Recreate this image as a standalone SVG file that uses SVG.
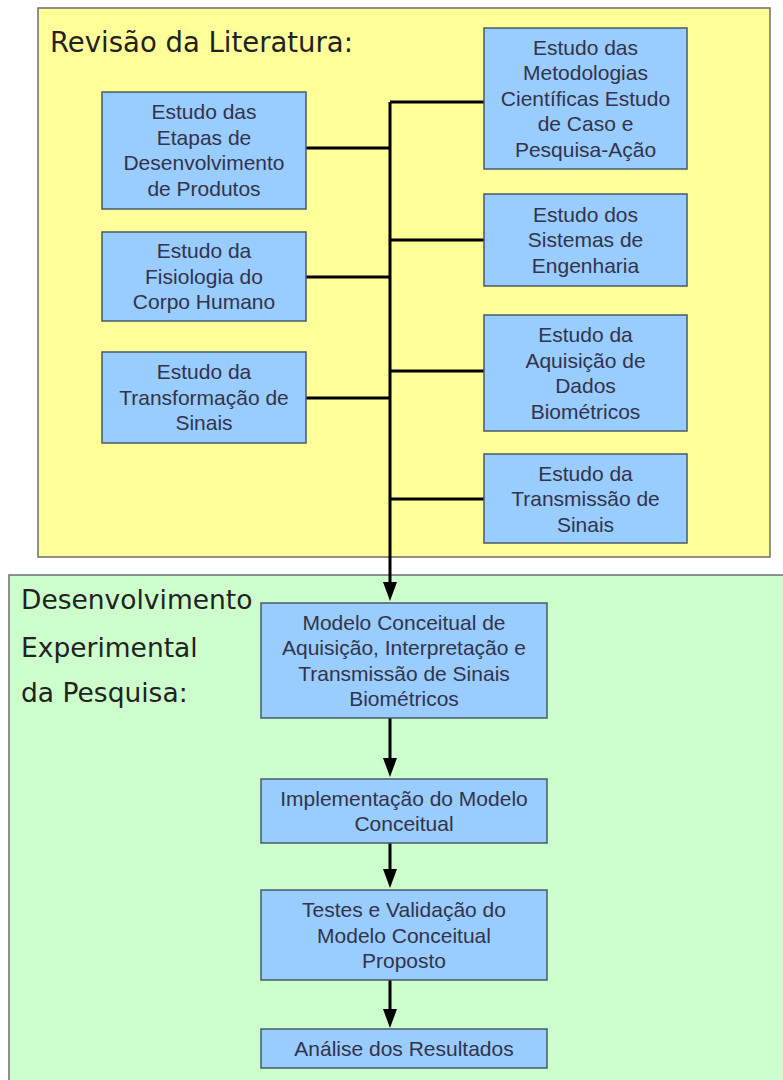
<svg xmlns="http://www.w3.org/2000/svg" width="783" height="1080" viewBox="0 0 783 1080">
<style>
.sec{stroke:#6e6e6e;stroke-width:1.5}
.box{fill:#99ccff;stroke:#4a5a6a;stroke-width:1.5}
.t{font-family:"Liberation Sans",Arial,sans-serif;font-size:21px;fill:#33334a;text-anchor:middle}
.h{font-family:"DejaVu Sans",Verdana,sans-serif;fill:#222222}
.ln{stroke:#000;stroke-width:3;fill:none}
.ah{fill:#000}
</style>
<rect width="783" height="1080" fill="#ffffff"/>
<g id="sec-revisao">
<rect class="sec" x="38" y="8" width="732" height="549" fill="#ffff99"/>
<text class="h" x="50" y="52" font-size="27.5">Revisão da Literatura:</text>
</g>
<g id="sec-desenvolvimento">
<rect class="sec" x="9" y="575" width="790" height="520" fill="#ccffcc"/>
<text class="h" font-size="26.5"><tspan x="21" y="609">Desenvolvimento</tspan><tspan x="21" y="657">Experimental</tspan><tspan x="21" y="702">da Pesquisa:</tspan></text>
</g>
<g id="connectors">
<path class="ln" d="M306,148 H390 M306,277 H390 M306,398 H390 M484,102 H390 M484,240 H390 M484,371 H390 M484,499 H390"/>
<path class="ln" d="M390,102 V582"/>
<path class="ah" d="M383,582 L397,582 L390,601 Z"/>
<path class="ln" d="M390,718 V758"/>
<path class="ah" d="M383,758 L397,758 L390,777 Z"/>
<path class="ln" d="M390,843 V869"/>
<path class="ah" d="M383,869 L397,869 L390,888 Z"/>
<path class="ln" d="M390,980 V1009"/>
<path class="ah" d="M383,1009 L397,1009 L390,1028 Z"/>
</g>
<g id="n-etapas">
<rect class="box" x="102" y="92" width="204" height="117"/>
<text class="t"><tspan x="204" y="119">Estudo das</tspan><tspan x="204" y="144.5">Etapas de</tspan><tspan x="204" y="170">Desenvolvimento</tspan><tspan x="204" y="195.5">de Produtos</tspan></text>
</g>
<g id="n-fisiologia">
<rect class="box" x="102" y="232" width="204" height="89"/>
<text class="t"><tspan x="204" y="258">Estudo da</tspan><tspan x="204" y="283.5">Fisiologia do</tspan><tspan x="204" y="309">Corpo Humano</tspan></text>
</g>
<g id="n-transformacao">
<rect class="box" x="102" y="352" width="204" height="91"/>
<text class="t"><tspan x="204" y="379">Estudo da</tspan><tspan x="204" y="404.5">Transformação de</tspan><tspan x="204" y="430">Sinais</tspan></text>
</g>
<g id="n-metodologias">
<rect class="box" x="484" y="28" width="203" height="141"/>
<text class="t"><tspan x="585.5" y="54.5">Estudo das</tspan><tspan x="585.5" y="80">Metodologias</tspan><tspan x="585.5" y="105.5">Científicas Estudo</tspan><tspan x="585.5" y="131">de Caso e</tspan><tspan x="585.5" y="156.5">Pesquisa-Ação</tspan></text>
</g>
<g id="n-sistemas">
<rect class="box" x="484" y="194" width="203" height="92"/>
<text class="t"><tspan x="585.5" y="221.5">Estudo dos</tspan><tspan x="585.5" y="247">Sistemas de</tspan><tspan x="585.5" y="272.5">Engenharia</tspan></text>
</g>
<g id="n-aquisicao">
<rect class="box" x="484" y="315" width="203" height="116"/>
<text class="t"><tspan x="585.5" y="342">Estudo da</tspan><tspan x="585.5" y="367.5">Aquisição de</tspan><tspan x="585.5" y="393">Dados</tspan><tspan x="585.5" y="418.5">Biométricos</tspan></text>
</g>
<g id="n-transmissao">
<rect class="box" x="484" y="454" width="203" height="89"/>
<text class="t"><tspan x="585.5" y="480.5">Estudo da</tspan><tspan x="585.5" y="506">Transmissão de</tspan><tspan x="585.5" y="531.5">Sinais</tspan></text>
</g>
<g id="n-modelo">
<rect class="box" x="261" y="603" width="286" height="115"/>
<text class="t"><tspan x="404" y="629.5">Modelo Conceitual de</tspan><tspan x="404" y="655">Aquisição, Interpretação e</tspan><tspan x="404" y="680.5">Transmissão de Sinais</tspan><tspan x="404" y="706">Biométricos</tspan></text>
</g>
<g id="n-implementacao">
<rect class="box" x="261" y="779" width="286" height="64"/>
<text class="t"><tspan x="404" y="805.5">Implementação do Modelo</tspan><tspan x="404" y="831">Conceitual</tspan></text>
</g>
<g id="n-testes">
<rect class="box" x="261" y="890" width="286" height="90"/>
<text class="t"><tspan x="404" y="917">Testes e Validação do</tspan><tspan x="404" y="942.5">Modelo Conceitual</tspan><tspan x="404" y="968">Proposto</tspan></text>
</g>
<g id="n-analise">
<rect class="box" x="261" y="1029" width="286" height="39"/>
<text class="t" x="404" y="1055.5">Análise dos Resultados</text>
</g>
</svg>
